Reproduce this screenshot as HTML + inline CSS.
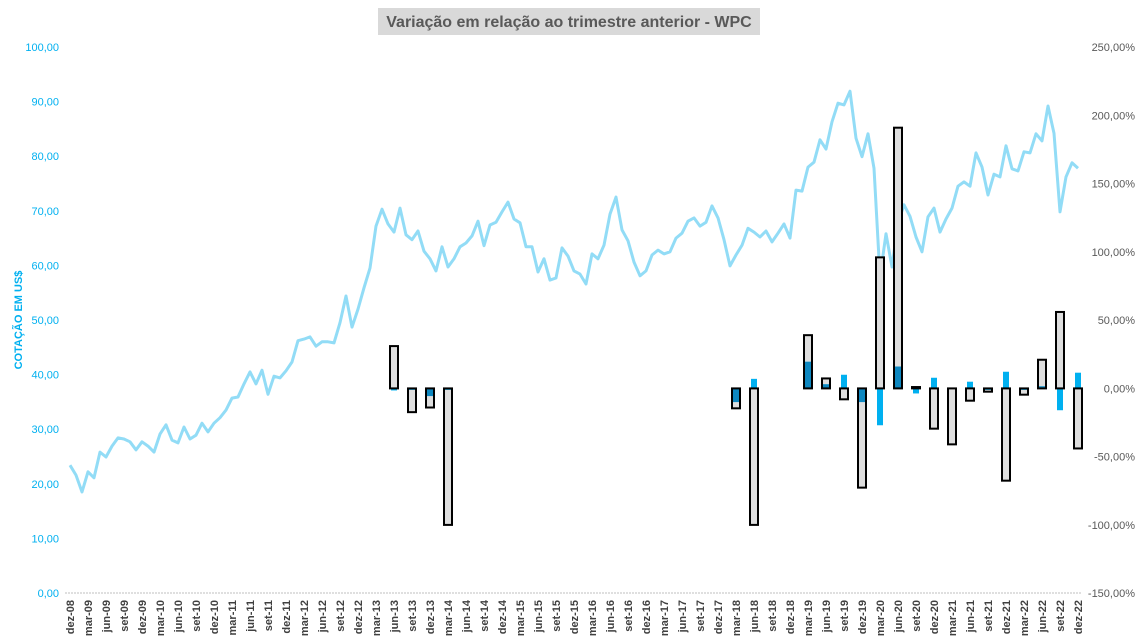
<!DOCTYPE html>
<html><head><meta charset="utf-8"><style>
body{margin:0;background:#fff;}
svg{display:block;font-family:"Liberation Sans",sans-serif;}
</style></head><body>
<svg id="chart" width="1139" height="643" viewBox="0 0 1139 643" xmlns="http://www.w3.org/2000/svg">
<rect x="378" y="8" width="382" height="27" fill="#d9d9d9"/>
<text x="569" y="27" text-anchor="middle" font-size="16" font-weight="bold" fill="#595959">Variação em relação ao trimestre anterior - WPC</text>
<text transform="translate(22,320) rotate(-90)" text-anchor="middle" font-size="11" font-weight="bold" fill="#00b0f0">COTAÇÃO EM US$</text>
<line x1="65" y1="593" x2="1081" y2="593" stroke="#bfbfbf" stroke-width="1" stroke-dasharray="2,1"/>
<g id="gLine"></g><g id="gBars"></g><g id="gAxes"></g>
</svg>
<script>
const prices=[23.4,21.6,18.5,22.2,21.1,25.8,24.9,26.9,28.4,28.2,27.7,26.2,27.7,26.9,25.8,29.1,30.8,28.0,27.5,30.4,28.2,28.9,31.1,29.5,31.1,32.1,33.5,35.7,35.9,38.3,40.5,38.3,40.8,36.4,39.7,39.4,40.7,42.3,46.2,46.5,46.9,45.2,46.0,46.0,45.8,49.5,54.4,48.7,52.0,55.9,59.5,67.2,70.3,67.6,66.1,70.5,65.6,64.7,66.3,62.6,61.2,59.0,63.4,59.7,61.2,63.4,64.1,65.4,68.1,63.6,67.4,67.9,69.8,71.6,68.5,67.8,63.4,63.4,58.8,61.2,57.3,57.7,63.2,61.7,59.0,58.4,56.6,62.1,61.2,63.7,69.4,72.5,66.5,64.5,60.6,58.1,59.0,61.9,62.8,62.1,62.5,65.0,65.9,68.1,68.7,67.2,67.9,70.9,68.7,64.7,59.9,61.9,63.7,66.8,66.1,65.2,66.3,64.3,65.9,67.6,65.0,73.8,73.6,78.0,78.9,83.0,81.3,86.3,89.7,89.4,91.9,83.3,79.9,84.1,77.8,57.9,65.8,59.7,67.8,71.1,69.0,65.2,62.5,68.9,70.5,66.1,68.5,70.5,74.5,75.3,74.5,80.6,78.0,72.9,76.7,76.2,81.9,77.7,77.3,80.8,80.6,84.1,82.8,89.2,84.2,69.8,76.2,78.8,77.8];
const quarters=["dez-08","mar-09","jun-09","set-09","dez-09","mar-10","jun-10","set-10","dez-10","mar-11","jun-11","set-11","dez-11","mar-12","jun-12","set-12","dez-12","mar-13","jun-13","set-13","dez-13","mar-14","jun-14","set-14","dez-14","mar-15","jun-15","set-15","dez-15","mar-16","jun-16","set-16","dez-16","mar-17","jun-17","set-17","dez-17","mar-18","jun-18","set-18","dez-18","mar-19","jun-19","set-19","dez-19","mar-20","jun-20","set-20","dez-20","mar-21","jun-21","set-21","dez-21","mar-22","jun-22","set-22","dez-22"];
const barQuarters=["jun-13","set-13","dez-13","mar-14","mar-18","jun-18","mar-19","jun-19","set-19","dez-19","mar-20","jun-20","set-20","dez-20","mar-21","jun-21","set-21","dez-21","mar-22","jun-22","set-22","dez-22"];
const greyVals=[31,-17.4,-14,-100,-14.6,-100,39,7.3,-8,-72.7,96,191,1,-29.5,-41,-9,-2.4,-67.6,-4.6,21,56,-44];
const blueVals=[-1.5,-1,-5.6,-1,-10,7,19.5,3,10,-10,-27,16,-3.7,7.8,0,4.9,-1,12.2,-1,1.5,-16,11.5];
const leftTicks=["0,00","10,00","20,00","30,00","40,00","50,00","60,00","70,00","80,00","90,00","100,00"];
const rightTicks=["-150,00%","-100,00%","-50,00%","0,00%","50,00%","100,00%","150,00%","200,00%","250,00%"];
const NS="http://www.w3.org/2000/svg";
function xMonth(i){return 70+6*i;}
function xQuarter(q){return 70+18*q;}
function yL(v){return 593-v*5.46;}
function yR(p){return 388.4-p*1.365;}
function mk(tag,parent){const e=document.createElementNS(NS,tag);parent.appendChild(e);return e;}
const gLine=document.getElementById('gLine'),gBars=document.getElementById('gBars'),gAxes=document.getElementById('gAxes');
const pl=mk('polyline',gLine);


pl.setAttribute('points',prices.map((v,i)=>xMonth(i)+','+yL(v).toFixed(1)).join(' '));
pl.setAttribute('fill','none');pl.setAttribute('stroke','#92dcf6');pl.setAttribute('stroke-width','3');pl.setAttribute('stroke-linejoin','round');
barQuarters.forEach((q,k)=>{
  const cx=xQuarter(quarters.indexOf(q));
  const g=greyVals[k],b=blueVals[k];
  const y0=yR(0),yg=yR(g),yb=yR(b);
  const gf=mk('rect',gBars);
  
  
  gf.setAttribute('x',cx-3.5);gf.setAttribute('y',Math.min(y0,yg));gf.setAttribute('width',7);gf.setAttribute('height',Math.max(0.5,Math.abs(yg-y0)));gf.setAttribute('fill','#dedede');
  const br=mk('rect',gBars);
  
  
  br.setAttribute('x',cx-3);br.setAttribute('y',Math.min(y0,yb));br.setAttribute('width',6);br.setAttribute('height',Math.abs(yb-y0));br.setAttribute('fill','#00b0f0');
  if(g*b>0){
    const ov=Math.min(Math.abs(g),Math.abs(b))*(b>0?1:-1);
    const yo=yR(ov);
    const orr=mk('rect',gBars);
    
    
    orr.setAttribute('x',cx-3);orr.setAttribute('y',Math.min(y0,yo));orr.setAttribute('width',6);orr.setAttribute('height',Math.abs(yo-y0));orr.setAttribute('fill','#0e87c0');
  }
  const go=mk('rect',gBars);
  
  
  go.setAttribute('x',cx-4);go.setAttribute('y',Math.min(y0,yg));go.setAttribute('width',8);go.setAttribute('height',Math.max(1,Math.abs(yg-y0)));go.setAttribute('fill','none');go.setAttribute('stroke','#000');go.setAttribute('stroke-width','2');
});
leftTicks.forEach((t,i)=>{
  const e=mk('text',gAxes);
  
  
  e.setAttribute('x',59);e.setAttribute('y',yL(i*10)+4);e.setAttribute('text-anchor','end');e.setAttribute('font-size','11');e.setAttribute('fill','#00b0f0');
  e.textContent=t;
});
rightTicks.forEach((t,i)=>{
  const e=mk('text',gAxes);
  
  
  e.setAttribute('x',1135);e.setAttribute('y',yR(-150+i*50)+4);e.setAttribute('text-anchor','end');e.setAttribute('font-size','11');e.setAttribute('fill','#595959');
  e.textContent=t;
});
quarters.forEach((q,i)=>{
  const e=mk('text',gAxes);
  
  
  const x=xQuarter(i)+4;
  e.setAttribute('transform','translate('+x+',600) rotate(-90)');e.setAttribute('text-anchor','end');e.setAttribute('font-size','11');e.setAttribute('font-weight','bold');e.setAttribute('fill','#404040');
  e.textContent=q;
});
</script>
</body></html>
